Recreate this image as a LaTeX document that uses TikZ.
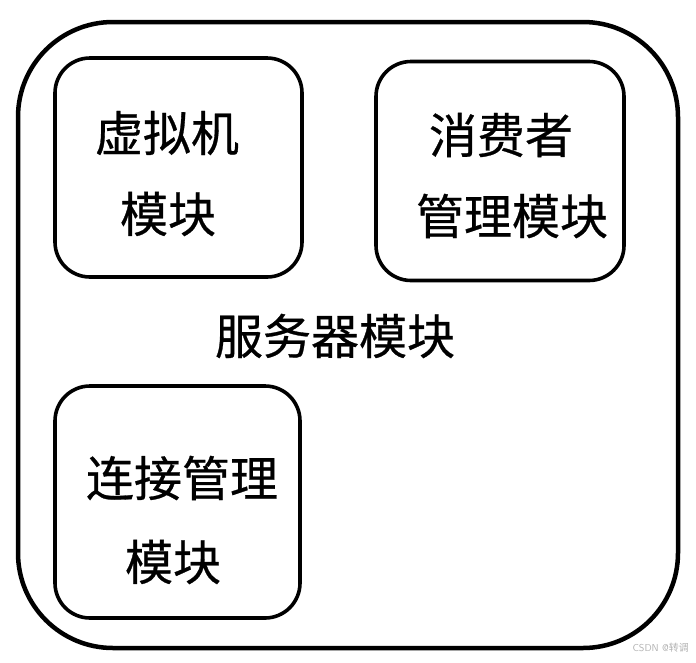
\documentclass[tikz,border=0pt]{standalone}
\usepackage{fontspec}
\setmainfont{Noto Sans CJK SC}
\newfontfamily\cjk[FakeBold=0.6]{Noto Sans CJK SC}
\newfontfamily\cjkthin{Noto Sans CJK SC}
\begin{document}
\begin{tikzpicture}[x=1pt,y=-1pt,
  outerbox/.style={draw=black,line width=4.5pt,rounded corners=95pt,minimum width=660pt,minimum height=626pt,inner sep=0pt},
  modbox/.style={draw=black,line width=3.6pt,rounded corners=35pt,inner sep=0pt},
  lbl/.style={font=\cjk\fontsize{48}{56}\selectfont,inner sep=0pt,text=black},
  wm/.style={font=\sffamily\fontsize{10}{12}\selectfont,text=black!30,inner sep=0pt,anchor=east}]
\useasboundingbox (0,0) rectangle (696,662);
\fill[white] (0,0) rectangle (696,662);
\node[outerbox] (outer) at (348,335) {};
\node[modbox,minimum width=247pt,minimum height=219pt] (vm) at (178.5,167.5) {};
\node[modbox,minimum width=248pt,minimum height=219pt] (cons) at (500,171) {};
\node[modbox,minimum width=245pt,minimum height=232pt] (conn) at (177.5,502) {};
\node[lbl] (vm1) at (167,133) {虚拟机};
\node[lbl] (vm2) at (168,214) {模块};
\node[lbl] (cons1) at (501,135) {消费者};
\node[lbl] (cons2) at (512,216) {管理模块};
\node[lbl] (srv) at (335,336) {服务器模块};
\node[lbl] (conn1) at (182,478) {连接管理};
\node[lbl] (conn2) at (173,562) {模块};
\node[wm] (mark) at (689,648) {CSDN @{\cjkthin 转调}};
\end{tikzpicture}
\end{document}
